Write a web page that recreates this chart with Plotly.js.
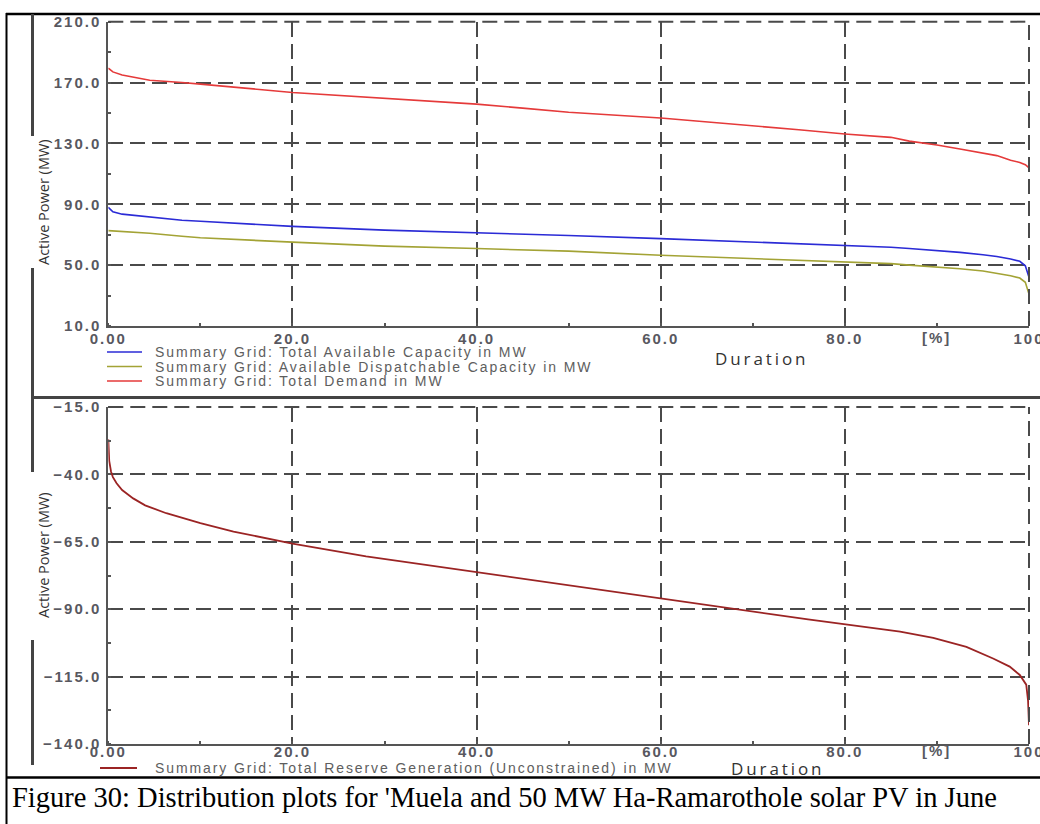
<!DOCTYPE html>
<html>
<head>
<meta charset="utf-8">
<script src="https://cdn.plot.ly/plotly-3.0.1.min.js"></script>
<style>
html,body{margin:0;padding:0;background:#fff;}
#chart{width:1040px;height:824px;}
.xtick text, .x2tick text, .ytick text, .y2tick text { letter-spacing: 2px; }
</style>
</head>
<body>
<div id="chart"></div>
<script>
// ---- data ----
var durationTop = [0, 0.5, 1.5, 4.5, 8, 10, 20, 30, 40, 45, 50, 60, 70, 75, 80, 85, 87, 90, 92.5, 95, 96.5, 98, 99, 99.6, 100];
var totalDemand = [179.5, 177, 175, 171.5, 170, 169, 163.5, 159.5, 155.8, 153.2, 150.5, 146.7, 141.8, 139, 136.2, 134, 131.5, 129, 126.3, 123.5, 122, 119, 117.5, 116, 114];
var totalAvailable = [88, 85, 83.5, 81.5, 79.5, 78.8, 75.5, 73, 71.4, 70.5, 69.5, 67.4, 65.3, 64.2, 63.1, 61.8, 60.9, 59.6, 58.4, 56.8, 55.7, 54, 52.5, 49.6, 42];
var availableDispatchable = [72.7, 72.5, 72, 71, 69, 68, 65.1, 62.5, 60.9, 60, 59.2, 56.5, 54.2, 53.2, 52.2, 51, 50, 48.8, 47.6, 46.2, 44.8, 43, 41.5, 38.7, 31];

var durationBottom = [0, 0.1, 0.3, 0.5, 0.9, 1.5, 2.7, 4, 6.3, 10, 13.6, 20, 28, 40, 49, 60, 68, 76, 86, 89.6, 93.2, 96.1, 97.9, 99, 99.7, 99.9, 100];
var reserveGeneration = [-27, -35, -39, -41, -43.3, -45.8, -48.9, -51.5, -54.4, -58.1, -61.2, -65.7, -70.4, -76.3, -80.6, -86, -90, -93.8, -98.3, -100.6, -104, -108.3, -111.3, -114.4, -118, -124, -133];

var xTickVals = [0, 20, 40, 60, 80, 100];
var xTickText = ["0.00", "20.0", "40.0", "60.0", "80.0", "100"];
var yTopTickVals = [10, 50, 90, 130, 170, 210];
var yBottomTickVals = [-140, -115, -90, -65, -40, -15];

var seriesNames = [
  "Summary Grid: Total Available Capacity in MW",
  "Summary Grid: Available Dispatchable Capacity in MW",
  "Summary Grid: Total Demand in MW",
  "Summary Grid: Total Reserve Generation (Unconstrained) in MW"
];
var seriesColors = ["#2b2bd6", "#a3a335", "#e53a3a", "#9b2424"];

var W = 1040, H = 824;
function px(x){ return x / W; }
function py(y){ return 1 - y / H; }

var traces = [
  {x: durationTop, y: totalAvailable, xaxis: 'x', yaxis: 'y', mode: 'lines', name: seriesNames[0], line: {color: seriesColors[0], width: 1.6}},
  {x: durationTop, y: availableDispatchable, xaxis: 'x', yaxis: 'y', mode: 'lines', name: seriesNames[1], line: {color: seriesColors[1], width: 1.6}},
  {x: durationTop, y: totalDemand, xaxis: 'x', yaxis: 'y', mode: 'lines', name: seriesNames[2], line: {color: seriesColors[2], width: 1.6}},
  {x: durationBottom, y: reserveGeneration, xaxis: 'x2', yaxis: 'y2', mode: 'lines', name: seriesNames[3], line: {color: seriesColors[3], width: 1.8}}
];

var tickFont = {family: 'Liberation Sans, Arial, sans-serif', size: 15, color: '#58585f', weight: 'bold'};
var gridStyle = {showgrid: true, gridcolor: '#4a4a4a', gridwidth: 2, griddash: '15px,7px',
  showline: true, linecolor: '#555', linewidth: 2, zeroline: false, ticks: '', tickfont: tickFont,
  ticklabeloverflow: 'allow'};

var xDomain = [px(108.3), px(1029)];
function xAxis(anchor, standoff){
  return Object.assign({}, gridStyle, {domain: xDomain, anchor: anchor, range: [0, 100],
    tickvals: xTickVals, ticktext: xTickText, ticklabelstandoff: standoff,
    minor: {dtick: 10, tick0: 0, ticks: 'inside', ticklen: 3, tickcolor: '#555', tickwidth: 2, showgrid: false}});
}
function yAxis(anchor, dom, rng, vals, mdt){
  return Object.assign({}, gridStyle, {domain: dom, anchor: anchor, range: rng,
    tickvals: vals, tickformat: '.1f', ticklabelstandoff: 2,
    minor: {dtick: mdt, tick0: rng[0], ticks: 'inside', ticklen: 3, tickcolor: '#555', tickwidth: 2, showgrid: false}});
}

function spaced(t, s){ return '<span style="letter-spacing:' + s + 'px">' + t + '</span>'; }

var legFont = {family: 'Liberation Sans, Arial, sans-serif', size: 14, color: '#5e5e5e'};
var durFont = {family: 'Open Sans, sans-serif', size: 17, color: '#333'};
var ann = [];
function addAnn(o){ ann.push(Object.assign({showarrow: false, xref: 'paper', yref: 'paper', xanchor: 'center', yanchor: 'middle'}, o)); }

addAnn({x: px(761), y: py(358.5), text: spaced('Duration', 2.9), font: durFont});
addAnn({x: px(777), y: py(768.5), text: spaced('Duration', 2.9), font: durFont});
addAnn({xref: 'x', x: 90, y: py(338), text: spaced('[%]', 2), font: tickFont});
addAnn({xref: 'x2', x: 90, y: py(750), text: spaced('[%]', 2), font: tickFont});
addAnn({x: px(43), y: py(202), text: 'Active Power (MW)', textangle: -90, font: {family: 'Open Sans, sans-serif', size: 14.5, color: '#333'}});
addAnn({x: px(43), y: py(555), text: 'Active Power (MW)', textangle: -90, font: {family: 'Open Sans, sans-serif', size: 14.5, color: '#333'}});
var legY = [352, 366.5, 381];
for (var i = 0; i < 3; i++) {
  addAnn({x: px(153), y: py(legY[i]), xanchor: 'left', text: spaced(seriesNames[i], 1.9), font: legFont});
}
addAnn({x: px(153), y: py(768), xanchor: 'left', text: spaced(seriesNames[3], 1.9), font: legFont});
addAnn({x: px(10), y: py(797), xanchor: 'left',
  text: "Figure 30: Distribution plots for 'Muela and 50 MW Ha-Ramarothole solar PV in June",
  font: {family: 'Liberation Serif, Times New Roman, serif', size: 28.5, color: '#000'}});

var shapes = [];
function pline(x0, y0, x1, y1, color, w, dash){
  shapes.push({type: 'line', xref: 'paper', yref: 'paper', x0: px(x0), y0: py(y0), x1: px(x1), y1: py(y1),
    line: {color: color, width: w, dash: dash || 'solid'}});
}
// outer frame
pline(6, 14, 1040, 14, '#000', 2.5);
pline(6.5, 13, 6.5, 824, '#000', 2);
pline(6, 777.5, 1040, 777.5, '#000', 2.5);
// inner dark bars
pline(32.5, 14, 32.5, 136, '#444', 3);
pline(32.5, 268, 32.5, 397, '#444', 3);
pline(32.5, 398, 32.5, 472, '#444', 3);
pline(32.5, 640, 32.5, 765, '#444', 3);
pline(31, 397.5, 1040, 397.5, '#444', 3);
// legend keys
for (var j = 0; j < 3; j++) pline(107, legY[j], 142, legY[j], seriesColors[j], 1.6);
pline(100, 768, 137, 768, seriesColors[3], 1.8);
// dashed top/right borders of both plot areas
[['x', 'y'], ['x2', 'y2']].forEach(function(a){
  shapes.push({type: 'line', xref: a[0] + ' domain', yref: a[1] + ' domain', x0: 0, x1: 1, y0: 1, y1: 1, line: {color: '#4a4a4a', width: 2, dash: '15px,7px'}});
  shapes.push({type: 'line', xref: a[0] + ' domain', yref: a[1] + ' domain', x0: 1, x1: 1, y0: 0, y1: 1, line: {color: '#4a4a4a', width: 2, dash: '15px,7px'}});
});

var layout = {
  width: W, height: H, margin: {l: 0, r: 0, t: 0, b: 0},
  paper_bgcolor: '#fff', plot_bgcolor: '#fff', showlegend: false,
  xaxis: xAxis('y', -2),
  yaxis: yAxis('x', [py(326), py(21.7)], [10, 210], yTopTickVals, 20),
  xaxis2: xAxis('y2', -7),
  yaxis2: yAxis('x2', [py(744), py(407)], [-140, -15], yBottomTickVals, 12.5),
  annotations: ann, shapes: shapes
};

Plotly.newPlot('chart', traces, layout, {displayModeBar: false, staticPlot: true});
</script>
</body>
</html>
